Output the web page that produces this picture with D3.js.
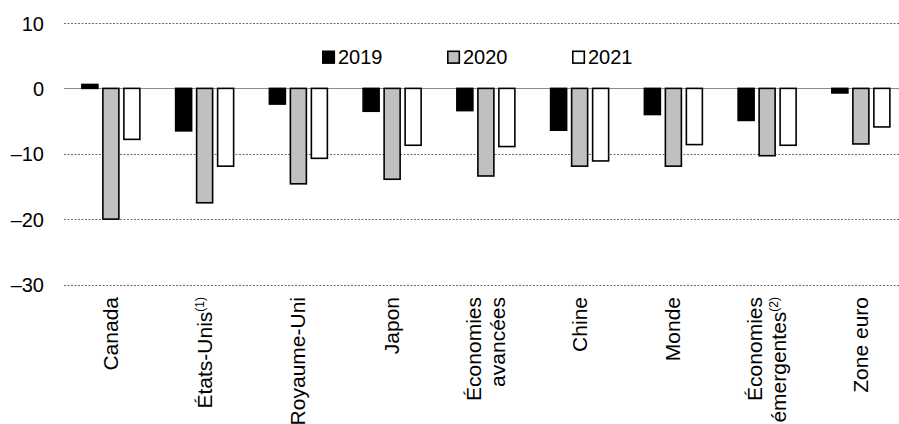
<!DOCTYPE html>
<html>
<head>
<meta charset="utf-8">
<script src="https://cdn.jsdelivr.net/npm/d3@7"></script>
<style>
  html, body { margin: 0; padding: 0; background: #fff; }
  svg { display: block; font-family: "Liberation Sans", Arial, sans-serif; }
</style>
</head>
<body>
<svg id="chart" width="899" height="424"></svg>
<script>
const categories = ["Canada", "États-Unis", "Royaume-Uni", "Japon", "Économies avancées", "Chine", "Monde", "Économies émergentes", "Zone euro"];
const labelLines = [["Canada"], ["États-Unis"], ["Royaume-Uni"], ["Japon"], ["Économies", "avancées"], ["Chine"], ["Monde"], ["Économies", "émergentes"], ["Zone euro"]];
const labelNotes = ["", "(1)", "", "", "", "", "", "(2)", ""];
const seriesNames = ["2019", "2020", "2021"];
const v2019 = [0.6, -6.5, -2.4, -3.5, -3.4, -6.4, -4.0, -4.9, -0.7];
const v2020 = [-20.0, -17.5, -14.6, -13.9, -13.4, -11.9, -11.9, -10.3, -8.5];
const v2021 = [-7.8, -11.9, -10.7, -8.7, -8.9, -11.1, -8.6, -8.7, -5.9];
const yTicks = [10, 0, -10, -20, -30];
const tickLabels = ["10", "0", "\u201310", "\u201320", "\u201330"];

const seriesValues = [v2019, v2020, v2021];
const fills = ["#000000", "#c0c0c0", "#ffffff"];

const svg = d3.select("#chart");
const W = 899;
const left = 64;
const bandW = 93.75;

const x = d3.scaleBand().domain(categories).range([left, left + bandW * categories.length]).padding(0);
const y = d3.scaleLinear().domain([-30, 10]).range([284.5, 23]);

// gridlines
const grid = svg.append("g");
yTicks.forEach(t => {
  grid.append("line")
    .attr("x1", left).attr("x2", W)
    .attr("y1", Math.round(y(t)) + 0.5).attr("y2", Math.round(y(t)) + 0.5)
    .attr("stroke", t === 0 ? "#8c8c8c" : "#6e6e6e")
    .attr("stroke-width", t === 0 ? 1.2 : 1)
    .attr("stroke-dasharray", t === 0 ? null : "2,1.5");
});

// y tick labels
const yAxis = d3.axisLeft(y).tickValues(yTicks).tickSize(0).tickPadding(0)
  .tickFormat((d, i) => tickLabels[i]);
const ya = svg.append("g").attr("transform", "translate(44,0)").call(yAxis);
ya.select(".domain").remove();
ya.selectAll("text").attr("font-size", "20px").attr("fill", "#000")
  .attr("font-family", "Liberation Sans, Arial, sans-serif").attr("dy", "0.35em");

// bars
const barW = 16, step = 21;
seriesValues.forEach((vals, si) => {
  svg.append("g").selectAll("rect").data(vals).join("rect")
    .attr("x", (d, i) => x(categories[i]) + x.bandwidth() / 2 + (si - 1) * step - barW / 2)
    .attr("y", d => y(Math.max(0, d)))
    .attr("width", barW)
    .attr("height", d => Math.abs(y(d) - y(0)))
    .attr("fill", fills[si])
    .attr("stroke", "#000")
    .attr("stroke-width", 1.6);
});

// category labels (rotated)
categories.forEach((c, i) => {
  const cx = x(c) + x.bandwidth() / 2;
  const g = svg.append("g").attr("transform", `translate(${cx},297) rotate(-90)`);
  const lines = labelLines[i];
  const n = lines.length;
  lines.forEach((ln, li) => {
    const base = n === 1 ? 7 : 7 + (li - (n - 1) / 2) * 23.3;
    const t = g.append("text")
      .attr("x", 0).attr("y", base)
      .attr("text-anchor", "end")
      .attr("font-size", "21px")
      .attr("fill", "#000");
    t.append("tspan").text(ln);
    if (li === n - 1 && labelNotes[i]) {
      t.append("tspan").attr("font-size", "12px").attr("dy", "-8").text(labelNotes[i]);
    }
  });
});

// legend
const legX = [322, 447, 572];
seriesNames.forEach((s, si) => {
  svg.append("rect")
    .attr("x", legX[si] + 0.8).attr("y", 51.3)
    .attr("width", 11.5).attr("height", 11.8)
    .attr("fill", fills[si]).attr("stroke", "#000").attr("stroke-width", 1.6);
  svg.append("text")
    .attr("x", legX[si] + 16).attr("y", 64.3)
    .attr("font-size", "20px").attr("fill", "#000")
    .text(s);
});
</script>
</body>
</html>
